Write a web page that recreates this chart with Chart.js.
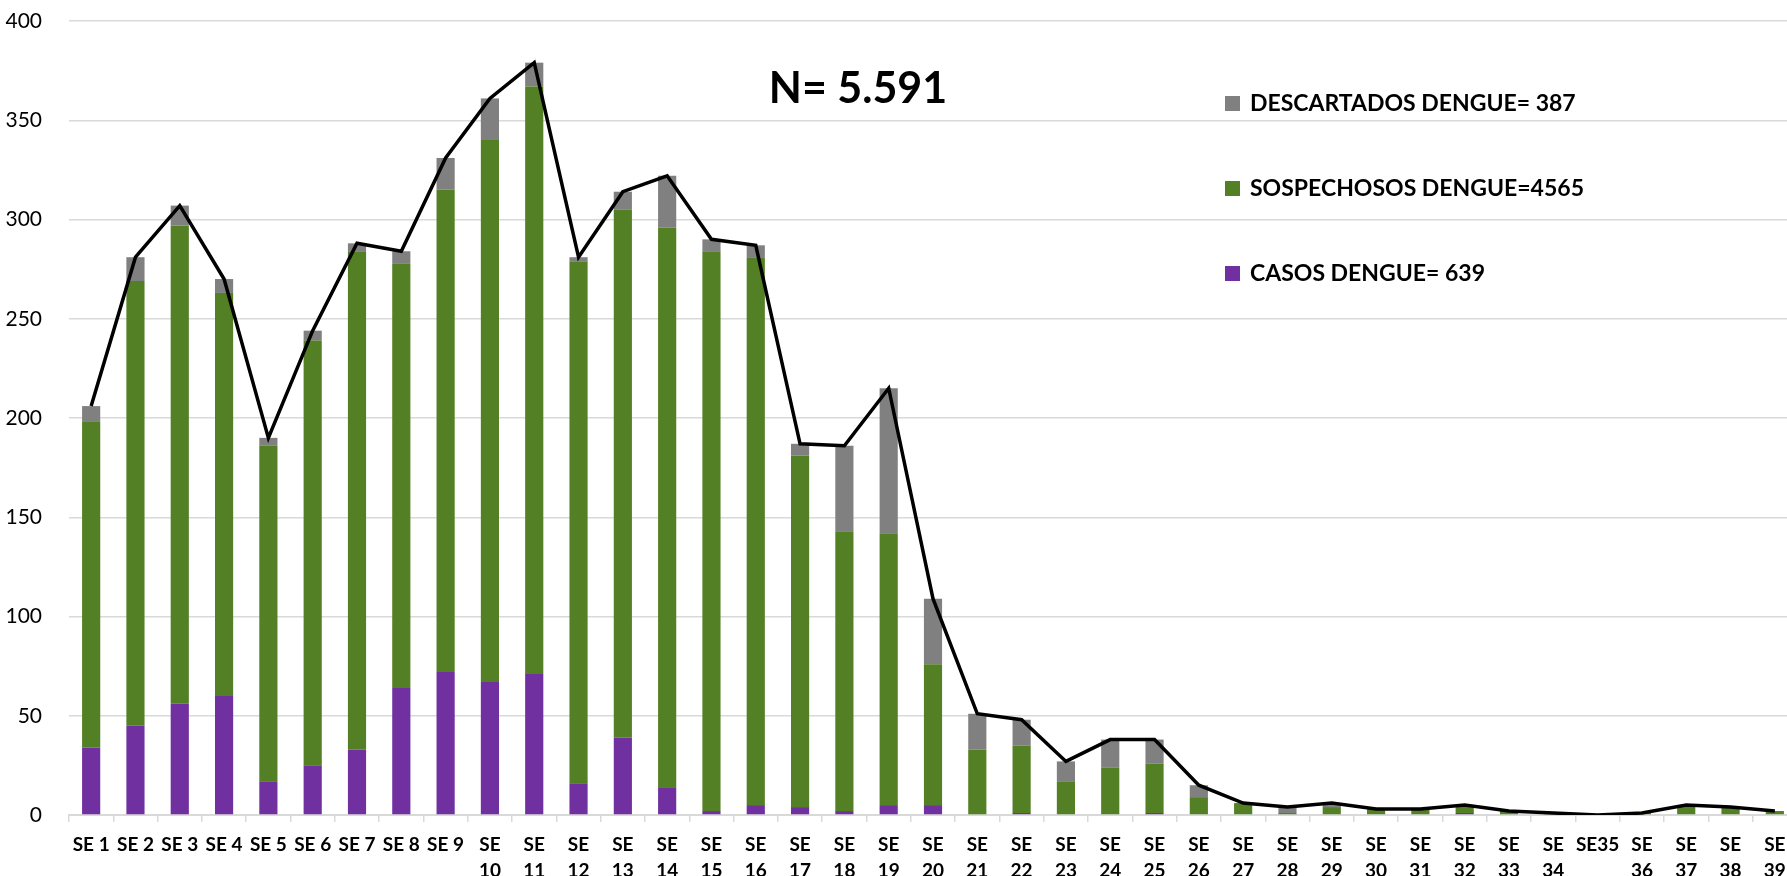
<!DOCTYPE html>
<html>
<head>
<meta charset="utf-8">
<script src="https://cdn.jsdelivr.net/npm/chart.js@4/dist/chart.umd.min.js"></script>
<style>
  html, body { margin: 0; padding: 0; background: #fff; overflow: hidden; }
  #wrap { position: absolute; left: 0; top: 0; width: 1787px; height: 876px; overflow: hidden; }
</style>
</head>
<body>
<div id="wrap"><canvas id="chart" width="1800" height="876"></canvas></div>
<script>
'use strict';

/*********** DATA ***********/
var semanas = ['SE 1', 'SE 2', 'SE 3', 'SE 4', 'SE 5', 'SE 6', 'SE 7', 'SE 8', 'SE 9', 'SE 10',
  'SE 11', 'SE 12', 'SE 13', 'SE 14', 'SE 15', 'SE 16', 'SE 17', 'SE 18', 'SE 19', 'SE 20',
  'SE 21', 'SE 22', 'SE 23', 'SE 24', 'SE 25', 'SE 26', 'SE 27', 'SE 28', 'SE 29', 'SE 30',
  'SE 31', 'SE 32', 'SE 33', 'SE 34', 'SE35', 'SE 36', 'SE 37', 'SE 38', 'SE 39'];
var casos = [34, 45, 56, 60, 17, 25, 33, 64, 72, 67, 71, 16, 39, 14, 2, 5, 4, 2, 5, 5,
  0, 1, 0, 0, 1, 0, 0, 0, 0, 0, 0, 1, 0, 0, 0, 0, 0, 0, 0];
var sospechosos = [164, 224, 241, 203, 169, 214, 251, 214, 243, 273, 296, 263, 266, 282, 282, 276, 177, 141, 137, 71,
  33, 34, 17, 24, 25, 9, 6, 1, 4, 3, 3, 4, 2, 1, 0, 1, 5, 4, 2];
var descartados = [8, 12, 10, 7, 4, 5, 4, 6, 16, 21, 12, 2, 9, 26, 6, 6, 6, 43, 73, 33,
  18, 13, 10, 14, 12, 6, 0, 3, 2, 0, 0, 0, 0, 0, 0, 0, 0, 0, 0];
var totales = [206, 281, 307, 270, 190, 244, 288, 284, 331, 361, 379, 281, 314, 322, 290, 287, 187, 186, 215, 109,
  51, 48, 27, 38, 38, 15, 6, 4, 6, 3, 3, 5, 2, 1, 0, 1, 5, 4, 2];
var titulo = 'N= 5.591';
var leyenda = ['DESCARTADOS DENGUE= 387', 'SOSPECHOSOS DENGUE=4565', 'CASOS DENGUE= 639'];

var MORADO = '#7030a0';
var VERDE = '#538024';
var GRIS = '#808080';
var FUENTE = 'Lato, "Open Sans", sans-serif';

/*********** PLUGINS ***********/
// title and legend sit inside the plot area, so they are drawn by hand
var textoInterno = {
  id: 'textoInterno',
  afterDatasetsDraw: function(chart) {
    var ctx = chart.ctx;
    ctx.save();
    ctx.fillStyle = '#000';
    ctx.textBaseline = 'alphabetic';
    ctx.textAlign = 'center';
    ctx.font = 'bold 43px ' + FUENTE;
    ctx.fillText(titulo, 858, 103);

    var colores = [GRIS, VERDE, MORADO];
    ctx.textAlign = 'left';
    ctx.textBaseline = 'middle';
    ctx.font = 'bold 23px ' + FUENTE;
    for (var i = 0; i < leyenda.length; i++) {
      var y = 103 + i * 85;
      ctx.fillStyle = colores[i];
      ctx.fillRect(1225, y - 7, 15, 15);
      ctx.fillStyle = '#000';
      ctx.fillText(leyenda[i], 1250, y + 1);
    }
    ctx.restore();
  }
};

/*********** CHART ***********/
var ctx = document.getElementById('chart').getContext('2d');

new Chart(ctx, {
  type: 'bar',
  data: {
    labels: semanas,
    datasets: [
      {
        type: 'line',
        label: 'Total',
        data: totales,
        borderColor: '#000',
        borderWidth: 3.5,
        pointRadius: 0,
        tension: 0,
        fill: false,
        stack: 'total',
        order: 0
      },
      { label: leyenda[2], data: casos, backgroundColor: MORADO, stack: 'se', order: 1 },
      { label: leyenda[1], data: sospechosos, backgroundColor: VERDE, stack: 'se', order: 1 },
      { label: leyenda[0], data: descartados, backgroundColor: GRIS, stack: 'se', order: 1 }
    ]
  },
  options: {
    responsive: false,
    animation: false,
    layout: { padding: { top: 21, right: 3, left: 0, bottom: 0 } },
    datasets: {
      bar: { categoryPercentage: 1, barPercentage: 0.41 }
    },
    plugins: {
      legend: { display: false },
      tooltip: { enabled: false }
    },
    scales: {
      x: {
        stacked: true,
        grid: {
          offset: true,
          drawOnChartArea: false,
          drawTicks: true,
          tickLength: 7,
          color: '#d9d9d9',
          lineWidth: 1.5
        },
        border: { color: '#d9d9d9', width: 2 },
        ticks: {
          autoSkip: false,
          maxRotation: 0,
          minRotation: 0,
          padding: 10,
          color: '#000',
          font: { family: FUENTE, size: 19, weight: 'bold', lineHeight: 1.38 },
          callback: function(value) {
            var lab = this.getLabelForValue(value);
            var partes = lab.split(' ');
            // two-digit weeks wrap onto two lines like in the original
            if (partes.length === 2 && partes[1].length > 1) {
              return partes;
            }
            return lab;
          }
        },
        afterFit: function(scale) { scale.height = 61; }
      },
      y: {
        stacked: true,
        min: 0,
        max: 400,
        ticks: {
          stepSize: 50,
          padding: 0,
          color: '#000',
          font: { family: FUENTE, size: 21 }
        },
        // invisible tick marks give the gap between labels and plot
        grid: { color: '#d9d9d9', lineWidth: 1.5, drawTicks: true, tickLength: 27, tickColor: 'rgba(0,0,0,0)' },
        border: { display: false },
        afterFit: function(scale) { scale.width = 69; }
      }
    }
  },
  plugins: [textoInterno]
});
</script>
</body>
</html>
